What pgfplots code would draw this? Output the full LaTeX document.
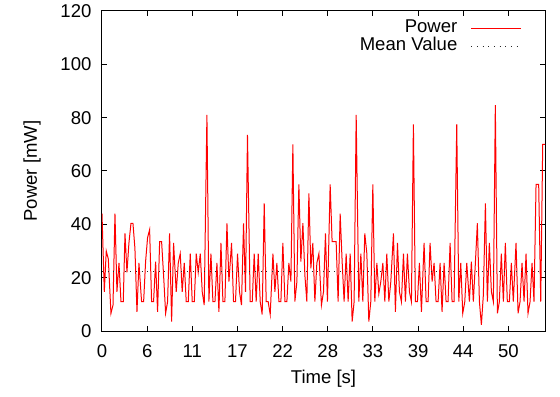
\documentclass[border=0pt]{standalone}
\usepackage{fontspec}
\setmainfont{Liberation Sans}
\usepackage{pgfplots}
\pgfplotsset{compat=1.18}
\begin{document}
\begin{tikzpicture}[font=\fontsize{13.9}{16}\selectfont]
\begin{axis}[
 scale only axis,
 width=332.25pt, height=240pt,
 xmin=0, xmax=53.96, ymin=0, ymax=120,
 xtick={0,5.5,11,16.5,22,27.5,33,38.5,44,49.5},
 xticklabels={0,6,11,17,22,28,33,39,44,50},
 ytick={0,20,40,60,80,100,120},
 tick align=inside,
 major tick length=3.75pt,
 axis line style={line width=0.75pt},
 every tick/.style={black, line width=0.75pt},
 /pgf/number format/assume math mode=true,
 xlabel={Time [s]}, ylabel={Power [mW]},
 xlabel style={at={(axis description cs:0.5,-0.15)}, anchor=center},
 ylabel style={at={(axis description cs:-0.158,0.5)}, anchor=center},
 xticklabel style={yshift=-7pt},
 yticklabel style={xshift=-4.4pt},
 legend style={at={(rel axis cs:1,1)}, anchor=north east, xshift=-17.5pt, yshift=-6.25pt,
   draw=none, fill=none, inner sep=0pt, outer sep=0pt, column sep=10pt, row sep=0pt,
   nodes={inner sep=0pt, text height=10pt, text depth=3.5pt}},
 legend cell align=right, legend plot pos=right,
 legend image code/.code={\draw[#1] (0pt,0pt) -- (37.5pt,0pt);},
]
\addplot[red, line width=0.75pt] coordinates {
(0.00,44)(0.28,14.7)(0.52,30)(0.77,27)(1.09,6.6)(1.34,9.7)(1.58,44)(1.82,14.7)(2.07,25.5)(2.31,11)
(2.59,11)(2.80,36.6)(3.04,22)(3.28,33)(3.53,40.4)(3.77,40.4)(4.01,31)(4.26,7.2)(4.50,25.5)(4.82,11)
(5.07,11)(5.31,26)(5.55,35)(5.80,38)(6.04,11)(6.28,11)(6.53,26)(6.77,7.2)(7.02,33.5)(7.26,33.5)
(7.50,21)(7.75,6.6)(7.99,11)(8.23,36.6)(8.48,3.5)(8.72,33)
(9.04,14.7)(9.29,25.5)(9.53,29)(9.77,14.7)(10.02,25.5)(10.26,11)(10.51,11)(10.75,29)(10.99,11)(11.24,11)
(11.48,29)(11.72,22)(11.97,29)(12.21,14.7)(12.45,9.7)(12.78,81)(13.02,11)(13.27,29)(13.51,11)(13.76,11)
(14.00,25.5)(14.24,7.2)(14.49,33)(14.73,11)(14.97,11)(15.22,40.4)(15.46,18.5)(15.78,33)(16.02,11)(16.26,11)
(16.51,29)(16.75,14.7)(16.99,9.7)(17.24,40.4)(17.48,14.7)(17.72,73.5)
(18.05,11)(18.30,11)(18.54,29)(18.78,11)(19.03,29)(19.27,11)(19.51,6.2)(19.76,47.9)(20.00,11)(20.24,11)
(20.49,6.2)(20.82,29)(21.06,14.7)(21.30,25.5)(21.55,11)(21.79,11)(22.03,33)(22.28,11)(22.52,11)(22.76,25.5)
(23.01,18.5)(23.25,70)(23.49,11)(23.74,18.5)(23.98,55)(24.22,26)(24.47,40.4)(24.71,21)(24.95,11)(25.20,51.6)
(25.44,23.5)(25.68,33)(25.93,11)(26.17,25.5)(26.42,29)(26.73,9.7)
(26.98,14.7)(27.22,36.6)(27.46,11)(27.79,55)(28.03,33.5)(28.28,33.5)(28.52,33.5)(28.76,11)(29.01,44)(29.25,26)
(29.49,11)(29.74,29)(29.98,11)(30.23,29)(30.47,3.5)(30.71,11)(30.96,81)(31.28,11)(31.53,29)(31.77,11)
(32.01,36.6)(32.26,29)(32.50,3.5)(32.74,11)(32.99,55)(33.23,11)(33.48,25.5)(33.72,14)(33.96,18.5)(34.21,25.5)
(34.45,11)(34.69,29)(34.94,11)(35.18,18.5)(35.50,36.6)(35.74,7.2)
(35.99,33)(36.23,14.7)(36.47,11)(36.72,29)(36.96,11)(37.20,29)(37.45,14.7)(37.69,11)(37.93,77.5)(38.17,11)
(38.42,11)(38.66,25.5)(38.91,7.2)(39.23,33)(39.48,11)(39.72,11)(39.96,33)(40.21,18.5)(40.45,25.5)(40.69,11)
(40.94,11)(41.18,25.5)(41.42,7.2)(41.67,25.5)(41.91,11)(42.15,11)(42.40,33)(42.64,11)(42.88,11)(43.21,77.5)
(43.46,11)(43.70,25.5)(43.94,6.6)(44.19,11)(44.43,25.5)(44.75,11)
(44.99,26)(45.23,11)(45.48,25.5)(45.72,40.4)(45.97,11)(46.21,2.3)(46.45,13.5)(46.70,47.9)(46.94,11)(47.18,33)
(47.43,14.7)(47.67,11)(47.91,84.7)(48.16,6.6)(48.40,11)(48.64,29)(48.89,11)(49.13,33)(49.37,11)(49.62,11)
(49.86,25.5)(50.10,11)(50.43,33)(50.68,6.6)(50.92,11)(51.16,25.5)(51.41,11)(51.65,29)(51.89,6.6)(52.14,11)
(52.38,25.5)(52.62,11)(52.87,55)(53.19,55)(53.44,11)(53.68,70)(53.96,70)
};
\addlegendentry{Power}
\addplot[black!85, line width=0.75pt, dash pattern=on 0.75pt off 3.5pt] coordinates {(0,22.5) (53.96,22.5)};
\addlegendentry{Mean Value}
\coordinate (sw) at (rel axis cs:0,0);
\coordinate (ne) at (rel axis cs:1,1);
\end{axis}
\pgfresetboundingbox
\useasboundingbox ([shift={(-76.5pt,-48.75pt)}]sw) rectangle ([shift={(11.25pt,8.25pt)}]ne);
\end{tikzpicture}
\end{document}
